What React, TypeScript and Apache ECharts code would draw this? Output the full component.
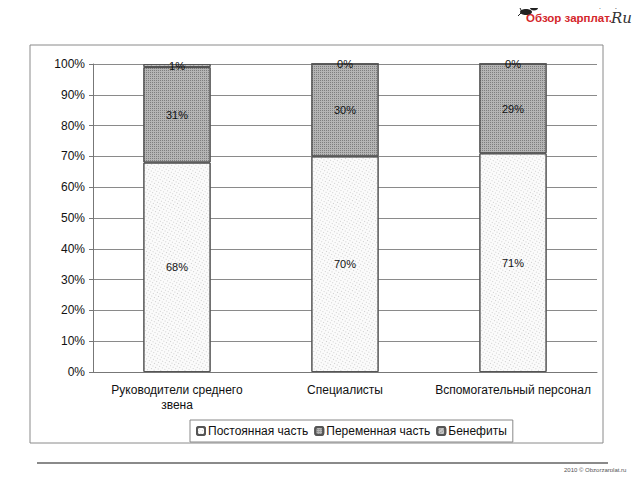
import React, { useEffect, useRef } from "react";
import * as echarts from "echarts";

const categories = ["Руководители среднего\nзвена", "Специалисты", "Вспомогательный персонал"];
const fixedPart = [68, 70, 71];
const variablePart = [31, 30, 29];
const benefits = [1, 0, 0];
const seriesNames = ["Постоянная часть", "Переменная часть", "Бенефиты"];
const yTicks = [0, 10, 20, 30, 40, 50, 60, 70, 80, 90, 100];

const FONT = "Liberation Sans";

export default function App() {
  const ref = useRef<HTMLDivElement>(null);
  useEffect(() => {
    if (!ref.current) return;
    const chart = echarts.init(ref.current, undefined, { renderer: "svg" });
    const label = {
      show: true,
      position: "inside",
      formatter: "{c}%",
      color: "#111",
      fontFamily: FONT,
      fontSize: 11,
    };
    const mkSeries = (name: string, data: number[], color: string, decal: any) => ({
      name,
      type: "bar",
      stack: "total",
      data,
      barWidth: "40%",
      label,
      itemStyle: { color, borderColor: "#555", borderWidth: 1, decal },
    });
    chart.setOption({
      animation: false,
      aria: { enabled: true, decal: { show: true } },
      textStyle: { fontFamily: FONT },
      grid: { left: 93, top: 64, width: 504, height: 308, containLabel: false },
      xAxis: {
        type: "category",
        data: categories,
        axisLine: { lineStyle: { color: "#777" } },
        axisTick: { show: false },
        axisLabel: { color: "#111", fontSize: 12, fontFamily: FONT, margin: 10, lineHeight: 15, interval: 0 },
      },
      yAxis: {
        type: "value",
        min: 0,
        max: 100,
        interval: 10,
        axisLine: { show: true, lineStyle: { color: "#777" } },
        axisTick: { show: true, length: 4, lineStyle: { color: "#777" } },
        axisLabel: {
          color: "#111",
          fontSize: 12,
          fontFamily: FONT,
          margin: 8,
          formatter: (v: number) => (yTicks.includes(v) ? v + "%" : ""),
        },
        splitLine: { lineStyle: { color: "#8a8a8a", width: 1 } },
      },
      legend: {
        data: seriesNames,
        left: 190,
        top: 420,
        width: 315,
        height: 23,
        padding: [5, 6, 5, 6],
        borderColor: "#888",
        borderWidth: 1,
        itemWidth: 8,
        itemHeight: 8,
        itemGap: 6,
        textStyle: { color: "#111", fontSize: 12, fontFamily: FONT, padding: [0, 0, 0, -2] },
      },
      series: [
        mkSeries(seriesNames[0], fixedPart, "#fbfbfb", {
          symbol: "rect",
          symbolSize: 1,
          dashArrayX: [1, 2],
          dashArrayY: [1, 2],
          color: "rgba(0,0,0,0.18)",
        }),
        mkSeries(seriesNames[1], variablePart, "#b5b5b5", {
          symbol: "rect",
          symbolSize: 1,
          dashArrayX: [1, 1],
          dashArrayY: [1, 1],
          color: "rgba(0,0,0,0.3)",
        }),
        mkSeries(seriesNames[2], benefits, "#c4c4c4", {
          symbol: "rect",
          symbolSize: 1,
          dashArrayX: [1, 1],
          dashArrayY: [1, 2],
          color: "rgba(0,0,0,0.3)",
        }),
      ],
      graphic: [
        {
          type: "rect",
          shape: { x: 30, y: 45, width: 573, height: 398 },
          style: { fill: "none", stroke: "#8a8a8a", lineWidth: 1 },
          silent: true,
        },
        {
          type: "line",
          shape: { x1: 37, y1: 463, x2: 608, y2: 463 },
          style: { stroke: "#8a8a8a", lineWidth: 2 },
          silent: true,
        },
        {
          type: "text",
          x: 564,
          y: 467,
          style: { text: "2010 © Obzorzarplat.ru", fontSize: 6, fill: "#555", fontFamily: FONT },
        },
        {
          type: "text",
          x: 526,
          y: 12,
          style: { text: "Обзор зарплат.", fontSize: 11.5, fontWeight: "bold", fill: "#d4262b", fontFamily: FONT },
        },
        {
          type: "text",
          x: 611,
          y: 10,
          style: { text: "Ru", fontSize: 15, fontStyle: "italic", fill: "#333", fontFamily: "DejaVu Serif" },
        },
        {
          type: "ellipse",
          shape: { cx: 526, cy: 12, rx: 6, ry: 3 },
          style: { fill: "#222" },
        },
        {
          type: "ellipse",
          shape: { cx: 534, cy: 8, rx: 4, ry: 2.5 },
          style: { fill: "#222" },
        },
        {
          type: "polyline",
          shape: { points: [[518, 16], [522, 12], [520, 8]] },
          style: { stroke: "#222", lineWidth: 1, fill: "none" },
        },
        {
          type: "polyline",
          shape: { points: [[537, 6], [541, 3]] },
          style: { stroke: "#222", lineWidth: 1, fill: "none" },
        },
        {
          type: "text",
          left: 562,
          top: 3,
          z: 100,
          style: { text: "Узнай свою зарплату", fontSize: 5, fill: "#222", fontFamily: "DejaVu Sans" },
        },
      ],
    });
    return () => chart.dispose();
  }, []);
  return <div ref={ref} style={{ width: 640, height: 480, margin: -8 }} />;
}
